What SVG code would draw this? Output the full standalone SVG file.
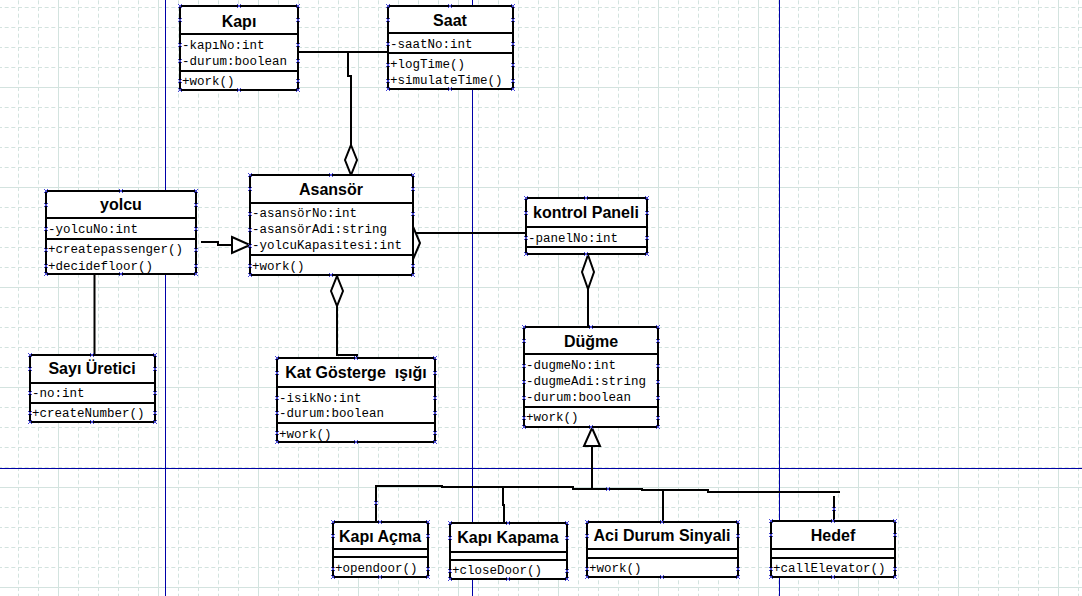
<svg xmlns="http://www.w3.org/2000/svg" xmlns:xlink="http://www.w3.org/1999/xlink" width="1082" height="596" viewBox="0 0 1082 596">
<style>
.box{fill:#fff;stroke:#000;stroke-width:2}
.dv{fill:none;stroke:#000;stroke-width:2}
.t{font-family:"Liberation Sans",Arial,sans-serif;font-weight:bold;font-size:16px;text-anchor:middle;fill:#000}
.a{font-family:"Liberation Mono","Courier New",monospace;font-size:12.5px;fill:#000}
.ln{fill:none;stroke:#000;stroke-width:2}
.hol{fill:#fff;stroke:#000;stroke-width:2}
.blue{stroke:#0000a8;stroke-width:1}
</style>
<defs>
<pattern id="gm" x="18" y="7" width="20" height="20" patternUnits="userSpaceOnUse">
<path d="M0.5 0V20M0 0.5H20" stroke="#d3e3df" stroke-width="1" stroke-dasharray="4 2.667" fill="none"/>
</pattern>
<pattern id="gM" x="58" y="87" width="100" height="100" patternUnits="userSpaceOnUse">
<path d="M0.5 0V100M0 0.5H100" stroke="#d3e3df" stroke-width="1" fill="none"/>
</pattern>
<path id="m" d="M-2-2L2 2M2-2L-2 2" stroke="#4848d8" stroke-width="1" fill="none"/>
</defs>
<rect width="1082" height="596" fill="#fff"/>
<rect width="1082" height="596" fill="url(#gm)"/>
<rect width="1082" height="596" fill="url(#gM)"/>
<g id="guides">
<path class="blue" d="M165.5 0V596M472.5 0V596M779.5 0V596M0 468.5H1082"/>
</g>
<g id="connectors">
<path class="ln" d="M298 52H388M348 52V76H351V145"/>
<polygon class="hol" points="351,145 357,160 351,175 345,160"/>
<path class="ln" d="M201 242H218V245H232"/>
<polygon class="hol" points="232,237 250,245 232,253"/>
<path class="ln" d="M416 233H526"/>
<polygon class="hol" points="414,229 420,243 414,257 408,243"/>
<path class="ln" d="M588 289V327"/>
<polygon class="hol" points="588,255 594,272 588,289 582,272"/>
<path class="ln" d="M337 306V355H357V358"/>
<polygon class="hol" points="337,276 343,291 337,306 331,291"/>
<path class="ln" d="M94.5 274V355"/>
<path class="ln" d="M592 446V489M376 522V486H442V487H573V489H642V490H708V492H840M503 487V505H504V523M663 490V522M834 496V521"/>
<polygon class="hol" points="592,428 600,446 584,446"/>
</g>
<g id="kapi">
<rect class="box" x="180" y="6" width="118" height="84"/>
<path class="dv" d="M180 34H298M180 71H298"/>
<text class="t" x="239" y="27">Kapı</text>
<text class="a" x="182" y="49">-kapıNo:int</text>
<text class="a" x="182" y="65">-durum:boolean</text>
<text class="a" x="182" y="85">+work()</text>
<use xlink:href="#m" x="180" y="6"/><use xlink:href="#m" x="239" y="6"/><use xlink:href="#m" x="298" y="6"/>
<use xlink:href="#m" x="180" y="90"/><use xlink:href="#m" x="239" y="90"/><use xlink:href="#m" x="298" y="90"/>
<use xlink:href="#m" x="180" y="20"/><use xlink:href="#m" x="298" y="20"/><use xlink:href="#m" x="180" y="45"/><use xlink:href="#m" x="298" y="45"/>
<use xlink:href="#m" x="180" y="61"/><use xlink:href="#m" x="298" y="61"/><use xlink:href="#m" x="180" y="81"/><use xlink:href="#m" x="298" y="81"/>
</g>
<g id="saat">
<rect class="box" x="388" y="6" width="125" height="83"/>
<path class="dv" d="M388 33H513M388 53H513"/>
<text class="t" x="450" y="26">Saat</text>
<text class="a" x="390" y="48">-saatNo:int</text>
<text class="a" x="390" y="68">+logTime()</text>
<text class="a" x="390" y="84">+simulateTime()</text>
<use xlink:href="#m" x="388" y="6"/><use xlink:href="#m" x="450" y="6"/><use xlink:href="#m" x="513" y="6"/>
<use xlink:href="#m" x="388" y="89"/><use xlink:href="#m" x="450" y="89"/><use xlink:href="#m" x="513" y="89"/>
<use xlink:href="#m" x="388" y="20"/><use xlink:href="#m" x="513" y="20"/><use xlink:href="#m" x="388" y="44"/><use xlink:href="#m" x="513" y="44"/>
<use xlink:href="#m" x="388" y="65"/><use xlink:href="#m" x="513" y="65"/><use xlink:href="#m" x="388" y="81"/><use xlink:href="#m" x="513" y="81"/>
</g>
<g id="asansor">
<rect class="box" x="250" y="175" width="163" height="100"/>
<path class="dv" d="M250 203H413M250 255H413"/>
<text class="t" x="331" y="195">Asansör</text>
<text class="a" x="252" y="217">-asansörNo:int</text>
<text class="a" x="252" y="233">-asansörAdi:string</text>
<text class="a" x="252" y="249">-yolcuKapasitesi:int</text>
<text class="a" x="252" y="270">+work()</text>
<use xlink:href="#m" x="250" y="175"/><use xlink:href="#m" x="331" y="175"/><use xlink:href="#m" x="413" y="175"/>
<use xlink:href="#m" x="250" y="275"/><use xlink:href="#m" x="331" y="275"/><use xlink:href="#m" x="413" y="275"/>
<use xlink:href="#m" x="250" y="189"/><use xlink:href="#m" x="413" y="189"/><use xlink:href="#m" x="250" y="214"/><use xlink:href="#m" x="413" y="214"/>
<use xlink:href="#m" x="250" y="230"/><use xlink:href="#m" x="250" y="246"/><use xlink:href="#m" x="250" y="266"/><use xlink:href="#m" x="413" y="266"/>
</g>
<g id="yolcu">
<rect class="box" x="46" y="191" width="150" height="83"/>
<path class="dv" d="M46 218H196M46 239H196"/>
<text class="t" x="121" y="210">yolcu</text>
<text class="a" x="48" y="233">-yolcuNo:int</text>
<text class="a" x="48" y="253">+createpassenger()</text>
<text class="a" x="48" y="270">+decidefloor()</text>
<use xlink:href="#m" x="46" y="191"/><use xlink:href="#m" x="121" y="191"/><use xlink:href="#m" x="196" y="191"/>
<use xlink:href="#m" x="46" y="274"/><use xlink:href="#m" x="121" y="274"/><use xlink:href="#m" x="196" y="274"/>
<use xlink:href="#m" x="46" y="205"/><use xlink:href="#m" x="196" y="205"/><use xlink:href="#m" x="46" y="229"/><use xlink:href="#m" x="196" y="229"/>
<use xlink:href="#m" x="46" y="250"/><use xlink:href="#m" x="196" y="250"/><use xlink:href="#m" x="46" y="266"/><use xlink:href="#m" x="196" y="266"/>
</g>
<g id="sayi-uretici">
<rect class="box" x="30" y="355" width="125" height="67"/>
<path class="dv" d="M30 383H155M30 403H155"/>
<text class="t" x="92" y="374">Sayı Üretici</text>
<text class="a" x="32" y="397">-no:int</text>
<text class="a" x="32" y="417">+createNumber()</text>
<use xlink:href="#m" x="30" y="355"/><use xlink:href="#m" x="92" y="355"/><use xlink:href="#m" x="155" y="355"/>
<use xlink:href="#m" x="30" y="422"/><use xlink:href="#m" x="92" y="422"/><use xlink:href="#m" x="155" y="422"/>
<use xlink:href="#m" x="30" y="369"/><use xlink:href="#m" x="155" y="369"/><use xlink:href="#m" x="30" y="393"/><use xlink:href="#m" x="155" y="393"/>
<use xlink:href="#m" x="30" y="413"/><use xlink:href="#m" x="155" y="413"/>
</g>
<g id="kat-gosterge">
<rect class="box" x="277" y="358" width="158" height="84"/>
<path class="dv" d="M277 387H435M277 423H435"/>
<text class="t" x="356" y="378" xml:space="preserve">Kat Gösterge  ışığı</text>
<text class="a" x="279" y="402">-isikNo:int</text>
<text class="a" x="279" y="417">-durum:boolean</text>
<text class="a" x="279" y="438">+work()</text>
<use xlink:href="#m" x="277" y="358"/><use xlink:href="#m" x="356" y="358"/><use xlink:href="#m" x="435" y="358"/>
<use xlink:href="#m" x="277" y="442"/><use xlink:href="#m" x="356" y="442"/><use xlink:href="#m" x="435" y="442"/>
<use xlink:href="#m" x="277" y="373"/><use xlink:href="#m" x="435" y="373"/><use xlink:href="#m" x="277" y="398"/><use xlink:href="#m" x="435" y="398"/>
<use xlink:href="#m" x="277" y="413"/><use xlink:href="#m" x="435" y="413"/><use xlink:href="#m" x="277" y="433"/><use xlink:href="#m" x="435" y="433"/>
</g>
<g id="kontrol-paneli">
<rect class="box" x="526" y="198" width="121" height="56"/>
<path class="dv" d="M526 227H647M526 247H647"/>
<text class="t" x="586" y="218">kontrol Paneli</text>
<text class="a" x="528" y="242">-panelNo:int</text>
<use xlink:href="#m" x="526" y="198"/><use xlink:href="#m" x="586" y="198"/><use xlink:href="#m" x="647" y="198"/>
<use xlink:href="#m" x="526" y="254"/><use xlink:href="#m" x="586" y="254"/><use xlink:href="#m" x="647" y="254"/>
<use xlink:href="#m" x="526" y="213"/><use xlink:href="#m" x="647" y="213"/><use xlink:href="#m" x="526" y="238"/><use xlink:href="#m" x="647" y="238"/>
</g>
<g id="dugme">
<rect class="box" x="524" y="327" width="134" height="100"/>
<path class="dv" d="M524 354H658M524 407H658"/>
<text class="t" x="591" y="347">Düğme</text>
<text class="a" x="526" y="369">-dugmeNo:int</text>
<text class="a" x="526" y="385">-dugmeAdi:string</text>
<text class="a" x="526" y="401">-durum:boolean</text>
<text class="a" x="526" y="421">+work()</text>
<use xlink:href="#m" x="524" y="327"/><use xlink:href="#m" x="591" y="327"/><use xlink:href="#m" x="658" y="327"/>
<use xlink:href="#m" x="524" y="427"/><use xlink:href="#m" x="591" y="427"/><use xlink:href="#m" x="658" y="427"/>
<use xlink:href="#m" x="524" y="341"/><use xlink:href="#m" x="658" y="341"/><use xlink:href="#m" x="524" y="366"/><use xlink:href="#m" x="658" y="366"/>
<use xlink:href="#m" x="524" y="382"/><use xlink:href="#m" x="658" y="382"/><use xlink:href="#m" x="524" y="398"/><use xlink:href="#m" x="658" y="398"/>
<use xlink:href="#m" x="524" y="418"/><use xlink:href="#m" x="658" y="418"/>
</g>
<g id="kapi-acma">
<rect class="box" x="333" y="522" width="95" height="55"/>
<path class="dv" d="M333 549H428M333 557H428"/>
<text class="t" x="380" y="542">Kapı Açma</text>
<text class="a" x="335" y="572">+opendoor()</text>
<use xlink:href="#m" x="333" y="522"/><use xlink:href="#m" x="380" y="522"/><use xlink:href="#m" x="428" y="522"/>
<use xlink:href="#m" x="333" y="577"/><use xlink:href="#m" x="380" y="577"/><use xlink:href="#m" x="428" y="577"/>
<use xlink:href="#m" x="333" y="536"/><use xlink:href="#m" x="428" y="536"/><use xlink:href="#m" x="333" y="569"/><use xlink:href="#m" x="428" y="569"/>
<use xlink:href="#m" x="376" y="503"/>
</g>
<g id="kapi-kapama">
<rect class="box" x="450" y="523" width="117" height="56"/>
<path class="dv" d="M450 552H567M450 560H567"/>
<text class="t" x="508" y="543">Kapı Kapama</text>
<text class="a" x="452" y="574">+closeDoor()</text>
<use xlink:href="#m" x="450" y="523"/><use xlink:href="#m" x="508" y="523"/><use xlink:href="#m" x="567" y="523"/>
<use xlink:href="#m" x="450" y="579"/><use xlink:href="#m" x="508" y="579"/><use xlink:href="#m" x="567" y="579"/>
<use xlink:href="#m" x="450" y="538"/><use xlink:href="#m" x="567" y="538"/><use xlink:href="#m" x="450" y="571"/><use xlink:href="#m" x="567" y="571"/>
</g>
<g id="aci-durum">
<rect class="box" x="587" y="522" width="151" height="55"/>
<path class="dv" d="M587 549H738M587 558H738"/>
<text class="t" x="662" y="541">Aci Durum Sinyali</text>
<text class="a" x="589" y="572">+work()</text>
<use xlink:href="#m" x="587" y="522"/><use xlink:href="#m" x="662" y="522"/><use xlink:href="#m" x="738" y="522"/>
<use xlink:href="#m" x="587" y="577"/><use xlink:href="#m" x="662" y="577"/><use xlink:href="#m" x="738" y="577"/>
<use xlink:href="#m" x="587" y="536"/><use xlink:href="#m" x="738" y="536"/><use xlink:href="#m" x="587" y="569"/><use xlink:href="#m" x="738" y="569"/>
<use xlink:href="#m" x="608" y="489"/>
</g>
<g id="hedef">
<rect class="box" x="771" y="521" width="124" height="56"/>
<path class="dv" d="M771 549H895M771 558H895"/>
<text class="t" x="833" y="541">Hedef</text>
<text class="a" x="773" y="572">+callElevator()</text>
<use xlink:href="#m" x="771" y="521"/><use xlink:href="#m" x="833" y="521"/><use xlink:href="#m" x="895" y="521"/>
<use xlink:href="#m" x="771" y="577"/><use xlink:href="#m" x="833" y="577"/><use xlink:href="#m" x="895" y="577"/>
<use xlink:href="#m" x="771" y="535"/><use xlink:href="#m" x="895" y="535"/><use xlink:href="#m" x="771" y="569"/><use xlink:href="#m" x="895" y="569"/>
<use xlink:href="#m" x="834" y="509"/>
</g>
</svg>
